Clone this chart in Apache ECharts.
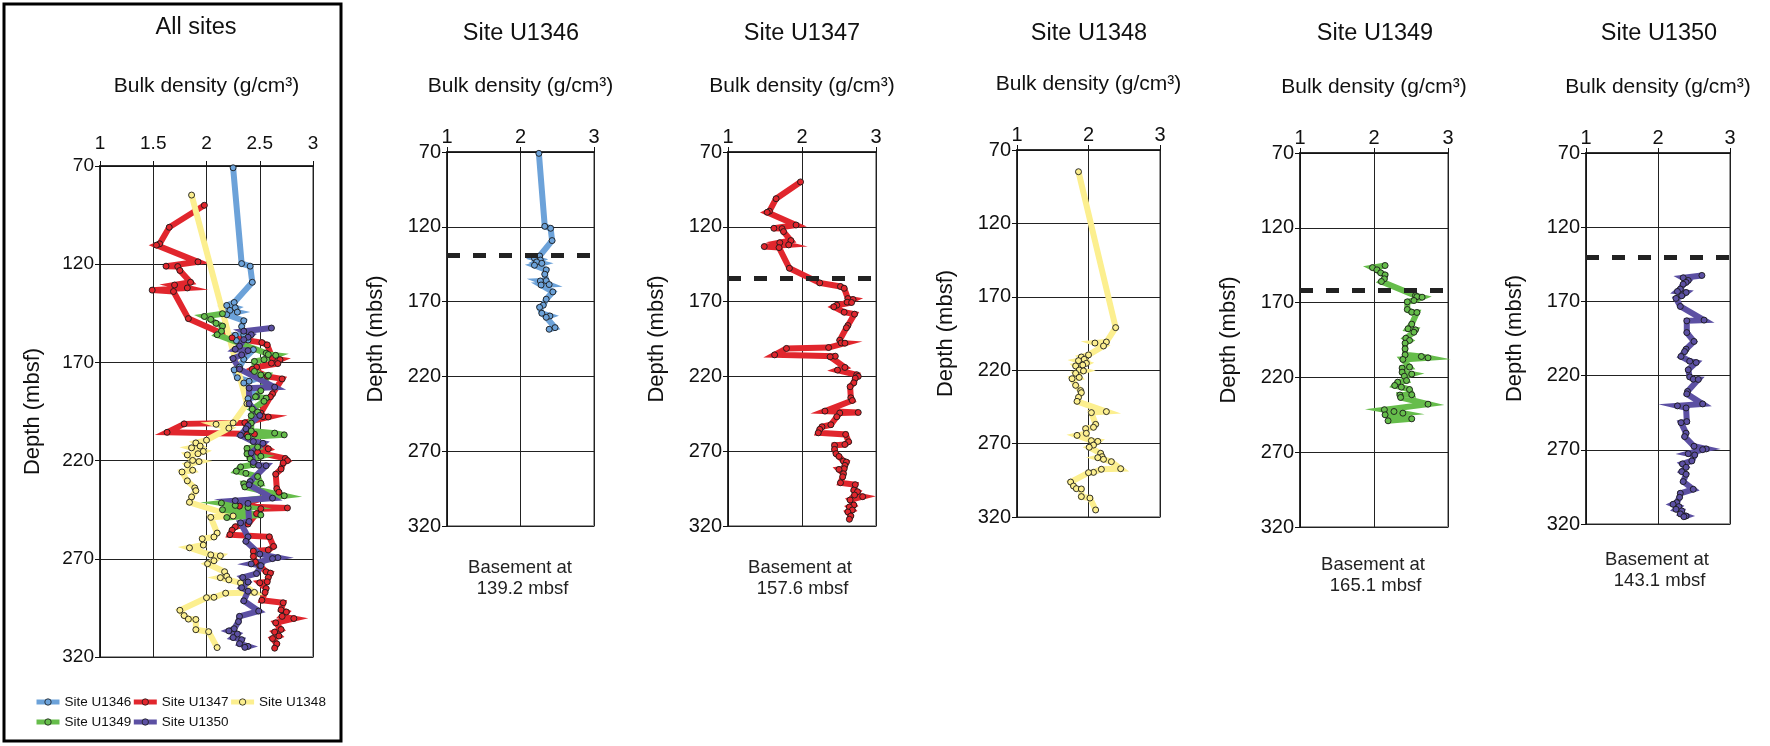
<!DOCTYPE html>
<html>
<head>
<meta charset="utf-8">
<script src="https://cdn.jsdelivr.net/npm/echarts@6/dist/echarts.min.js"></script>
<style>
  html, body { margin: 0; padding: 0; background: #fff; }
  #main { width: 1770px; height: 746px; }
</style>
</head>
<body>
<div id="main"></div>
<script>
// sites and their bulk density logs (depth in mbsf, density in g/cm3)
const siteNames = ['Site U1346', 'Site U1347', 'Site U1348', 'Site U1349', 'Site U1350'];
const siteColors = ['#6ca2d9', '#e1262d', '#fcef8f', '#66bd4b', '#5c50a3'];

const u1346Depth = [70.9, 119.7, 121.0, 129.2, 139.5, 141.0, 142.2, 143.5, 144.4, 145.7, 148.8, 151.7, 156.0, 156.2, 158.6, 158.9, 163.5, 168.4, 172.4, 173.8, 177.8, 179.6, 180.5, 187.4, 188.5];
const u1346Density = [2.25, 2.33, 2.41, 2.43, 2.26, 2.19, 2.27, 2.22, 2.29, 2.19, 2.35, 2.33, 2.35, 2.27, 2.39, 2.28, 2.44, 2.35, 2.31, 2.26, 2.29, 2.40, 2.35, 2.47, 2.39];

const u1347Depth = [90.0, 101.2, 109.6, 110.3, 118.8, 121.0, 121.2, 123.2, 129.2, 130.6, 132.1, 133.2, 133.9, 147.7, 157.5, 159.9, 161.1, 168.0, 168.6, 170.4, 170.6, 172.4, 173.5, 177.1, 178.4, 186.0, 187.5, 195.8, 197.6, 197.8, 200.7, 201.3, 205.6, 206.5, 206.9, 214.0, 215.8, 218.9, 220.0, 221.2, 224.3, 226.9, 234.3, 236.1, 243.2, 244.1, 244.5, 247.0, 252.3, 253.7, 255.4, 257.7, 258.8, 263.7, 265.5, 266.1, 268.8, 271.7, 273.5, 276.6, 277.3, 279.5, 281.7, 282.2, 285.1, 287.1, 291.1, 292.4, 296.0, 297.1, 299.3, 300.4, 302.6, 306.0, 307.3, 309.3, 310.6, 313.3, 315.5];
const u1347Density = [1.98, 1.65, 1.56, 1.53, 1.92, 1.62, 1.73, 1.75, 1.85, 1.70, 1.82, 1.49, 1.69, 1.83, 2.24, 2.52, 2.57, 2.62, 2.69, 2.61, 2.67, 2.47, 2.43, 2.57, 2.71, 2.62, 2.60, 2.51, 2.53, 2.58, 2.36, 1.79, 1.63, 2.45, 2.38, 2.58, 2.48, 2.74, 2.76, 2.72, 2.70, 2.65, 2.66, 2.68, 2.31, 2.76, 2.51, 2.47, 2.39, 2.27, 2.24, 2.22, 2.59, 2.63, 2.58, 2.44, 2.44, 2.46, 2.50, 2.56, 2.60, 2.58, 2.57, 2.50, 2.56, 2.55, 2.52, 2.72, 2.70, 2.75, 2.71, 2.82, 2.65, 2.70, 2.64, 2.68, 2.62, 2.66, 2.64];

const u1348Depth = [84.8, 191.0, 200.8, 201.5, 203.5, 209.6, 211.0, 212.6, 213.5, 215.3, 216.5, 217.1, 219.9, 220.5, 222.1, 224.9, 225.8, 230.3, 233.9, 235.3, 238.5, 241.2, 248.2, 248.9, 256.9, 258.9, 259.8, 263.0, 264.4, 268.0, 268.5, 271.0, 272.5, 276.6, 278.9, 279.6, 280.7, 282.3, 287.1, 287.5, 289.6, 289.8, 296.2, 298.9, 300.7, 300.9, 306.1, 307.1, 315.2];
const u1348Density = [1.86, 2.38, 2.25, 2.09, 2.21, 2.00, 1.90, 1.94, 1.86, 1.97, 1.92, 1.82, 1.87, 1.93, 1.82, 1.87, 1.77, 1.82, 1.89, 1.90, 1.86, 1.84, 2.25, 2.04, 2.10, 2.07, 1.96, 1.97, 1.84, 2.04, 2.13, 2.07, 2.01, 2.17, 2.19, 2.13, 2.21, 2.32, 2.45, 2.18, 2.07, 2.00, 1.75, 1.79, 1.83, 1.90, 1.90, 2.02, 2.10];

const u1349Depth = [145.2, 146.6, 148.1, 150.1, 151.5, 154.1, 155.9, 165.3, 166.0, 166.4, 168.6, 169.5, 174.6, 176.4, 176.6, 184.4, 187.5, 188.2, 189.8, 193.8, 195.3, 197.1, 200.9, 204.9, 206.0, 206.9, 208.0, 213.1, 213.8, 216.5, 217.8, 219.2, 222.1, 223.2, 225.4, 226.5, 228.1, 231.6, 231.8, 233.4, 237.9, 241.6, 242.8, 243.9, 245.0, 247.7, 249.0];
const u1349Density = [2.15, 1.98, 2.04, 2.09, 2.15, 2.14, 2.10, 2.56, 2.58, 2.65, 2.54, 2.45, 2.45, 2.51, 2.58, 2.51, 2.46, 2.56, 2.54, 2.43, 2.48, 2.42, 2.42, 2.42, 2.64, 2.73, 2.39, 2.48, 2.38, 2.38, 2.51, 2.41, 2.44, 2.32, 2.28, 2.37, 2.48, 2.51, 2.35, 2.36, 2.73, 2.14, 2.27, 2.39, 2.15, 2.51, 2.19];

const u1350Depth = [152.5, 154.1, 155.9, 157.2, 158.4, 161.7, 163.3, 164.0, 166.2, 168.0, 173.4, 182.6, 183.1, 191.0, 197.0, 202.2, 203.8, 207.1, 210.3, 211.2, 216.1, 220.9, 222.4, 222.6, 230.7, 232.3, 239.1, 240.4, 241.8, 251.0, 251.7, 258.8, 261.1, 267.6, 269.4, 269.9, 272.6, 273.5, 277.5, 279.5, 281.8, 284.7, 286.5, 291.4, 296.6, 299.3, 302.0, 305.6, 306.7, 308.3, 310.1, 311.2, 313.2, 314.6, 315.1];
const u1350Density = [2.61, 2.35, 2.42, 2.39, 2.35, 2.31, 2.27, 2.39, 2.33, 2.25, 2.31, 2.64, 2.40, 2.40, 2.50, 2.39, 2.37, 2.32, 2.44, 2.53, 2.42, 2.44, 2.49, 2.56, 2.41, 2.40, 2.62, 2.27, 2.39, 2.40, 2.32, 2.39, 2.37, 2.50, 2.67, 2.62, 2.42, 2.51, 2.47, 2.34, 2.39, 2.33, 2.39, 2.35, 2.49, 2.31, 2.30, 2.26, 2.21, 2.29, 2.25, 2.33, 2.31, 2.39, 2.36];

// basement depth labels and where the dashed line sits (null = no line)
const basementLabels = ['139.2', '157.6', null, '165.1', '143.1'];
const basementLine = [139, 154.5, null, 162, 140];

const depthTicks = [70, 320, 50];   // min, max, step
const allDensityTicks = [1, 3, 0.5];
const siteDensityTicks = [1, 3, 1];

const siteDepths = [u1346Depth, u1347Depth, u1348Depth, u1349Depth, u1350Depth];
const siteDensities = [u1346Density, u1347Density, u1348Density, u1349Density, u1350Density];

const pairs = (d, v) => v.map((x, i) => [x, d[i]]);

const FONT = '"Liberation Sans", Arial, sans-serif';

// panel boxes: [left, top, width, height]
const panels = [
  [100, 166, 213, 491],
  [447, 152, 147, 374],
  [728, 152, 148, 374],
  [1017, 150, 143, 367],
  [1300, 153, 148, 374],
  [1586, 153, 144, 371]
];

let grids = [], xAxes = [], yAxes = [], series = [], graphics = [];

panels.forEach((p, i) => {
  const first = i === 0;
  const dt = first ? allDensityTicks : siteDensityTicks;
  grids.push({
    left: p[0], top: p[1], width: p[2], height: p[3],
    show: true, borderColor: '#9a9a9a', borderWidth: 2, backgroundColor: 'transparent'
  });
  xAxes.push({
    gridIndex: i, type: 'value', position: 'top',
    min: dt[0], max: dt[1], interval: dt[2],
    name: 'Bulk density (g/cm³)', nameLocation: 'middle', nameGap: first ? 69 : 55,
    nameTextStyle: { fontSize: 21, color: '#111', fontFamily: FONT },
    axisLine: { show: true, onZero: false, lineStyle: { color: '#111', width: 1.5 } },
    axisTick: { show: true, length: 5, lineStyle: { color: '#111' } },
    axisLabel: { fontSize: first ? 19 : 20, color: '#111', fontFamily: FONT, margin: first ? 13 : 5 },
    splitLine: { show: true, lineStyle: { color: '#222', width: 1 } }
  });
  yAxes.push({
    gridIndex: i, type: 'value', inverse: true,
    min: depthTicks[0], max: depthTicks[1], interval: depthTicks[2],
    name: 'Depth (mbsf)', nameLocation: 'middle', nameGap: first ? 56 : 60, nameRotate: 90,
    nameTextStyle: { fontSize: 22, color: '#111', fontFamily: FONT },
    axisLine: { show: true, onZero: false, lineStyle: { color: '#111', width: 1.5 } },
    axisTick: { show: true, length: 5, lineStyle: { color: '#111' } },
    axisLabel: { fontSize: first ? 19 : 20, color: '#111', fontFamily: FONT, margin: 6 },
    splitLine: { show: true, lineStyle: { color: '#222', width: 1 } }
  });
});

function siteSeries(k, axis) {
  const s = {
    name: siteNames[k], type: 'line',
    xAxisIndex: axis, yAxisIndex: axis,
    data: pairs(siteDepths[k], siteDensities[k]),
    symbol: 'circle', symbolSize: 6,
    lineStyle: { color: siteColors[k], width: 6, join: 'miter', miterLimit: 8 },
    itemStyle: { color: siteColors[k], borderColor: '#1a1a1a', borderWidth: 0.9 },
    emphasis: { disabled: true },
    z: 3
  };
  if (axis > 0 && basementLine[k] != null) {
    s.markLine = {
      silent: true, symbol: ['none', 'none'], label: { show: false },
      lineStyle: { color: '#222', width: 5, type: [13, 13] },
      data: [{ yAxis: basementLine[k] }]
    };
  }
  return s;
}

// all-sites panel, then one panel per site
siteNames.forEach((n, k) => series.push(siteSeries(k, 0)));
siteNames.forEach((n, k) => series.push(siteSeries(k, k + 1)));

// frame around "All sites"
graphics.push({
  type: 'rect', shape: { x: 4, y: 4, width: 337, height: 737 },
  style: { fill: 'none', stroke: '#000', lineWidth: 3 }
});

const titleX = [196, 521, 802, 1089, 1375, 1659];
const titleY = [28, 34, 34, 34, 34, 34];
['All sites'].concat(siteNames).forEach((t, i) => {
  graphics.push({
    type: 'text', x: titleX[i], y: titleY[i],
    style: { text: t, fill: '#111', fontSize: 23.5, fontFamily: FONT, align: 'center', verticalAlign: 'middle' }
  });
});

const noteX = [520, 800, null, 1373, 1657];
const noteY = [578, 578, null, 575, 570];
basementLabels.forEach((b, k) => {
  if (b == null) return;
  graphics.push({
    type: 'text', x: noteX[k], y: noteY[k],
    style: {
      text: 'Basement at\n ' + b + ' mbsf', fill: '#222', fontSize: 18.5, fontFamily: FONT,
      align: 'center', verticalAlign: 'middle', lineHeight: 21
    }
  });
});

const chart = echarts.init(document.getElementById('main'));
chart.setOption({
  animation: false,
  backgroundColor: '#fff',
  textStyle: { fontFamily: FONT },
  grid: grids,
  xAxis: xAxes,
  yAxis: yAxes,
  legend: {
    data: siteNames, left: 29, top: 687, width: 315,
    itemWidth: 23, itemHeight: 8, itemGap: 0,
    lineStyle: { width: 5 },
    itemStyle: { borderWidth: 0.8, borderColor: '#1a1a1a' },
    textStyle: { fontSize: 13.5, lineHeight: 20, color: '#111', fontFamily: FONT }
  },
  series: series,
  graphic: graphics
});
</script>
</body>
</html>
